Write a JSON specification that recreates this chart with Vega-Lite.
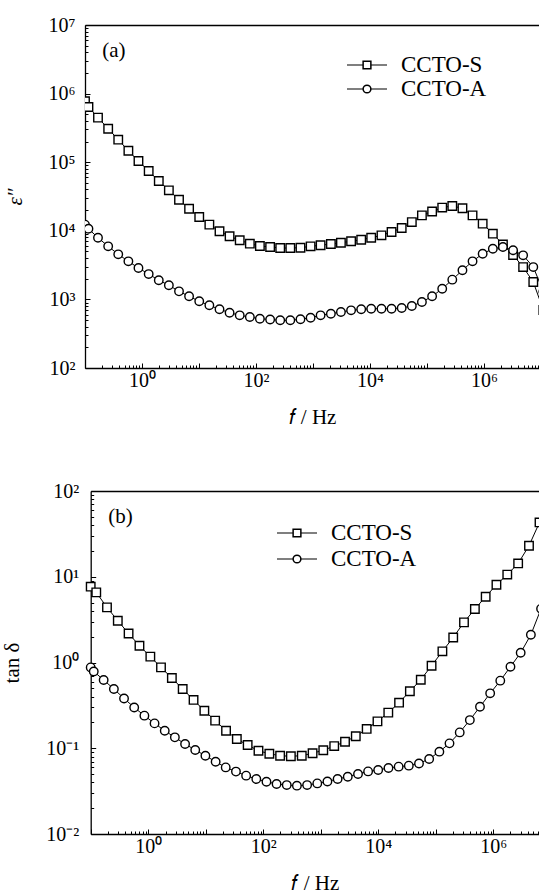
{
  "$schema": "https://vega.github.io/schema/vega-lite/v6.json",
  "padding": {"left": 1, "top": 15, "right": 0, "bottom": 0},
  "spacing": 54,
  "resolve": {"scale": {"shape": "independent", "opacity": "independent"}, "legend": {"shape": "independent", "opacity": "independent"}},
  "config": {
    "view": {"stroke": null},
    "font": "Liberation Serif",
    "axis": {"labelFont": "Liberation Serif", "titleFont": "Liberation Serif", "labelFontSize": 20, "titleFontSize": 21, "labelColor": "black", "titleColor": "black", "titleFontWeight": "normal", "tickColor": "black", "domainColor": "black", "grid": false, "tickWidth": 1, "domainWidth": 1.3, "labelFlush": false, "labelOverlap": false, "labelBound": false}
  },
  "datasets": {
    "a": [
      {"sample":"CCTO-S","f":0.1,"eps":773000},{"sample":"CCTO-S","f":0.115,"eps":638000},{"sample":"CCTO-S","f":0.169,"eps":446000},{"sample":"CCTO-S","f":0.255,"eps":308000},{"sample":"CCTO-S","f":0.383,"eps":213000},{"sample":"CCTO-S","f":0.577,"eps":147000},{"sample":"CCTO-S","f":0.867,"eps":104000},{"sample":"CCTO-S","f":1.31,"eps":74500},{"sample":"CCTO-S","f":1.97,"eps":53200},{"sample":"CCTO-S","f":2.96,"eps":38900},{"sample":"CCTO-S","f":4.46,"eps":28400},{"sample":"CCTO-S","f":6.7,"eps":21000},{"sample":"CCTO-S","f":10.1,"eps":15900},{"sample":"CCTO-S","f":15.2,"eps":12300},{"sample":"CCTO-S","f":22.9,"eps":9840},{"sample":"CCTO-S","f":34.4,"eps":8320},{"sample":"CCTO-S","f":51.8,"eps":7280},{"sample":"CCTO-S","f":78,"eps":6490},{"sample":"CCTO-S","f":117,"eps":6000},{"sample":"CCTO-S","f":177,"eps":5810},{"sample":"CCTO-S","f":266,"eps":5610},{"sample":"CCTO-S","f":400,"eps":5610},{"sample":"CCTO-S","f":603,"eps":5670},{"sample":"CCTO-S","f":908,"eps":5940},{"sample":"CCTO-S","f":1360,"eps":6150},{"sample":"CCTO-S","f":2060,"eps":6420},{"sample":"CCTO-S","f":3090,"eps":6710},{"sample":"CCTO-S","f":4660,"eps":7030},{"sample":"CCTO-S","f":7010,"eps":7420},{"sample":"CCTO-S","f":10500,"eps":7930},{"sample":"CCTO-S","f":15900,"eps":8590},{"sample":"CCTO-S","f":23900,"eps":9610},{"sample":"CCTO-S","f":36000,"eps":11000},{"sample":"CCTO-S","f":54200,"eps":13400},{"sample":"CCTO-S","f":81500,"eps":16800},{"sample":"CCTO-S","f":123000,"eps":19100},{"sample":"CCTO-S","f":185000,"eps":21800},{"sample":"CCTO-S","f":278000,"eps":23000},{"sample":"CCTO-S","f":419000,"eps":21300},{"sample":"CCTO-S","f":630000,"eps":16800},{"sample":"CCTO-S","f":948000,"eps":12700},{"sample":"CCTO-S","f":1430000,"eps":9080},{"sample":"CCTO-S","f":2150000,"eps":6310},{"sample":"CCTO-S","f":3240000,"eps":4440},{"sample":"CCTO-S","f":4860000,"eps":2960},{"sample":"CCTO-S","f":7330000,"eps":1790},{"sample":"CCTO-S","f":11000000,"eps":700},
      {"sample":"CCTO-A","f":0.1,"eps":12300},{"sample":"CCTO-A","f":0.115,"eps":10700},{"sample":"CCTO-A","f":0.169,"eps":7930},{"sample":"CCTO-A","f":0.255,"eps":5940},{"sample":"CCTO-A","f":0.383,"eps":4540},{"sample":"CCTO-A","f":0.577,"eps":3590},{"sample":"CCTO-A","f":0.867,"eps":2870},{"sample":"CCTO-A","f":1.31,"eps":2340},{"sample":"CCTO-A","f":1.97,"eps":1900},{"sample":"CCTO-A","f":2.96,"eps":1610},{"sample":"CCTO-A","f":4.46,"eps":1310},{"sample":"CCTO-A","f":6.7,"eps":1110},{"sample":"CCTO-A","f":10.1,"eps":938},{"sample":"CCTO-A","f":15.2,"eps":820},{"sample":"CCTO-A","f":22.9,"eps":717},{"sample":"CCTO-A","f":34.4,"eps":640},{"sample":"CCTO-A","f":51.8,"eps":586},{"sample":"CCTO-A","f":78,"eps":554},{"sample":"CCTO-A","f":117,"eps":523},{"sample":"CCTO-A","f":177,"eps":509},{"sample":"CCTO-A","f":266,"eps":496},{"sample":"CCTO-A","f":400,"eps":496},{"sample":"CCTO-A","f":603,"eps":513},{"sample":"CCTO-A","f":908,"eps":541},{"sample":"CCTO-A","f":1360,"eps":586},{"sample":"CCTO-A","f":2060,"eps":619},{"sample":"CCTO-A","f":3090,"eps":655},{"sample":"CCTO-A","f":4660,"eps":693},{"sample":"CCTO-A","f":7010,"eps":717},{"sample":"CCTO-A","f":10500,"eps":732},{"sample":"CCTO-A","f":15900,"eps":732},{"sample":"CCTO-A","f":23900,"eps":732},{"sample":"CCTO-A","f":36000,"eps":750},{"sample":"CCTO-A","f":54200,"eps":801},{"sample":"CCTO-A","f":81500,"eps":916},{"sample":"CCTO-A","f":123000,"eps":1110},{"sample":"CCTO-A","f":185000,"eps":1430},{"sample":"CCTO-A","f":278000,"eps":1940},{"sample":"CCTO-A","f":419000,"eps":2660},{"sample":"CCTO-A","f":630000,"eps":3590},{"sample":"CCTO-A","f":948000,"eps":4630},{"sample":"CCTO-A","f":1430000,"eps":5480},{"sample":"CCTO-A","f":2150000,"eps":5810},{"sample":"CCTO-A","f":3240000,"eps":5200},{"sample":"CCTO-A","f":4860000,"eps":4390},{"sample":"CCTO-A","f":7330000,"eps":2960},{"sample":"CCTO-A","f":11000000,"eps":1300}
    ],
    "b": [
      {"sample":"CCTO-S","f":0.1,"tan":7.66},{"sample":"CCTO-S","f":0.125,"tan":6.57},{"sample":"CCTO-S","f":0.192,"tan":4.39},{"sample":"CCTO-S","f":0.296,"tan":3.07},{"sample":"CCTO-S","f":0.456,"tan":2.18},{"sample":"CCTO-S","f":0.705,"tan":1.57},{"sample":"CCTO-S","f":1.09,"tan":1.17},{"sample":"CCTO-S","f":1.67,"tan":0.877},{"sample":"CCTO-S","f":2.58,"tan":0.659},{"sample":"CCTO-S","f":3.98,"tan":0.491},{"sample":"CCTO-S","f":6.15,"tan":0.366},{"sample":"CCTO-S","f":9.48,"tan":0.274},{"sample":"CCTO-S","f":14.6,"tan":0.21},{"sample":"CCTO-S","f":22.6,"tan":0.16},{"sample":"CCTO-S","f":34.8,"tan":0.128},{"sample":"CCTO-S","f":53.7,"tan":0.109},{"sample":"CCTO-S","f":82.8,"tan":0.0935},{"sample":"CCTO-S","f":128,"tan":0.0863},{"sample":"CCTO-S","f":197,"tan":0.0818},{"sample":"CCTO-S","f":303,"tan":0.0807},{"sample":"CCTO-S","f":469,"tan":0.0818},{"sample":"CCTO-S","f":723,"tan":0.0875},{"sample":"CCTO-S","f":1110,"tan":0.0948},{"sample":"CCTO-S","f":1720,"tan":0.106},{"sample":"CCTO-S","f":2650,"tan":0.119},{"sample":"CCTO-S","f":4080,"tan":0.138},{"sample":"CCTO-S","f":6310,"tan":0.168},{"sample":"CCTO-S","f":9720,"tan":0.206},{"sample":"CCTO-S","f":15000,"tan":0.26},{"sample":"CCTO-S","f":23100,"tan":0.34},{"sample":"CCTO-S","f":35600,"tan":0.462},{"sample":"CCTO-S","f":55100,"tan":0.63},{"sample":"CCTO-S","f":84900,"tan":0.918},{"sample":"CCTO-S","f":131000,"tan":1.35},{"sample":"CCTO-S","f":202000,"tan":1.96},{"sample":"CCTO-S","f":311000,"tan":2.94},{"sample":"CCTO-S","f":481000,"tan":4.21},{"sample":"CCTO-S","f":741000,"tan":5.85},{"sample":"CCTO-S","f":1140000,"tan":8.07},{"sample":"CCTO-S","f":1760000,"tan":10.6},{"sample":"CCTO-S","f":2720000,"tan":14.3},{"sample":"CCTO-S","f":4200000,"tan":23},{"sample":"CCTO-S","f":6400000,"tan":43},
      {"sample":"CCTO-A","f":0.1,"tan":0.877},{"sample":"CCTO-A","f":0.113,"tan":0.787},{"sample":"CCTO-A","f":0.168,"tan":0.625},{"sample":"CCTO-A","f":0.253,"tan":0.491},{"sample":"CCTO-A","f":0.38,"tan":0.381},{"sample":"CCTO-A","f":0.571,"tan":0.299},{"sample":"CCTO-A","f":0.859,"tan":0.24},{"sample":"CCTO-A","f":1.29,"tan":0.195},{"sample":"CCTO-A","f":1.94,"tan":0.16},{"sample":"CCTO-A","f":2.91,"tan":0.134},{"sample":"CCTO-A","f":4.38,"tan":0.112},{"sample":"CCTO-A","f":6.58,"tan":0.0955},{"sample":"CCTO-A","f":9.89,"tan":0.0818},{"sample":"CCTO-A","f":14.9,"tan":0.0697},{"sample":"CCTO-A","f":22.3,"tan":0.0598},{"sample":"CCTO-A","f":33.6,"tan":0.0534},{"sample":"CCTO-A","f":50.5,"tan":0.0479},{"sample":"CCTO-A","f":75.9,"tan":0.0438},{"sample":"CCTO-A","f":114,"tan":0.0407},{"sample":"CCTO-A","f":171,"tan":0.0383},{"sample":"CCTO-A","f":257,"tan":0.0372},{"sample":"CCTO-A","f":386,"tan":0.0366},{"sample":"CCTO-A","f":581,"tan":0.0372},{"sample":"CCTO-A","f":873,"tan":0.0389},{"sample":"CCTO-A","f":1310,"tan":0.041},{"sample":"CCTO-A","f":1970,"tan":0.0438},{"sample":"CCTO-A","f":2960,"tan":0.0466},{"sample":"CCTO-A","f":4460,"tan":0.0501},{"sample":"CCTO-A","f":6680,"tan":0.0537},{"sample":"CCTO-A","f":10000,"tan":0.0557},{"sample":"CCTO-A","f":15100,"tan":0.0589},{"sample":"CCTO-A","f":22700,"tan":0.061},{"sample":"CCTO-A","f":34100,"tan":0.0627},{"sample":"CCTO-A","f":51300,"tan":0.0665},{"sample":"CCTO-A","f":77100,"tan":0.075},{"sample":"CCTO-A","f":116000,"tan":0.0912},{"sample":"CCTO-A","f":174000,"tan":0.114},{"sample":"CCTO-A","f":262000,"tan":0.153},{"sample":"CCTO-A","f":393000,"tan":0.213},{"sample":"CCTO-A","f":590000,"tan":0.305},{"sample":"CCTO-A","f":887000,"tan":0.437},{"sample":"CCTO-A","f":1330000,"tan":0.614},{"sample":"CCTO-A","f":2000000,"tan":0.893},{"sample":"CCTO-A","f":3010000,"tan":1.3},{"sample":"CCTO-A","f":4530000,"tan":2.11},{"sample":"CCTO-A","f":6810000,"tan":4.24}
    ]
  },
  "vconcat": [
    {
      "width": 454,
      "height": 343,
      "data": {"name": "a"},
      "resolve": {"axis": {"x": "independent", "y": "independent"}},
      "layer": [
        {
          "mark": {"type": "line", "color": "black", "strokeWidth": 1, "clip": true},
          "encoding": {
            "x": {"field": "f", "type": "quantitative", "scale": {"type": "log", "domain": [0.1, 9230000], "nice": false},
              "axis": {"orient": "bottom", "values": [0.1, 1, 10, 100, 1000, 10000, 100000, 1000000], "tickSize": -5, "labelPadding": 7,
                "labelExpr": "datum.value == 1 ? '10⁰' : datum.value == 100 ? '10²' : datum.value == 10000 ? '10⁴' : datum.value == 1000000 ? '10⁶' : ''",
                "title": "𝑓 / Hz", "titlePadding": 16}},
            "y": {"field": "eps", "type": "quantitative", "scale": {"type": "log", "domain": [100, 10000000], "nice": false},
              "axis": {"orient": "left", "values": [100, 1000, 10000, 100000, 1000000, 10000000], "tickSize": -5, "labelPadding": 15,
                "labelExpr": "datum.value == 100 ? '10²' : datum.value == 1000 ? '10³' : datum.value == 10000 ? '10⁴' : datum.value == 100000 ? '10⁵' : datum.value == 1000000 ? '10⁶' : datum.value == 10000000 ? '10⁷' : ''",
                "title": "ε″", "titleFontStyle": "italic", "titlePadding": 23}},
            "opacity": {"field": "sample", "type": "ordinal", "scale": {"range": [1, 1]},
              "legend": {"title": null, "orient": "none", "legendX": 261, "legendY": 28, "direction": "vertical", "padding": 0, "symbolType": "stroke", "symbolSize": 1600, "symbolStrokeWidth": 1.2, "symbolStrokeColor": "black", "symbolDash": [16, 8, 16], "symbolOpacity": 1, "labelExpr": "''", "labelFont": "Liberation Serif", "labelFontSize": 23, "clipHeight": 24, "rowPadding": 0}}
          }
        },
        {
          "mark": {"type": "point", "filled": true, "fill": "white", "stroke": "black", "strokeWidth": 1.4, "size": 72, "opacity": 1, "clip": true},
          "encoding": {
            "x": {"field": "f", "type": "quantitative",
              "axis": {"orient": "bottom", "values": [0.2,0.3,0.4,0.5,0.6,0.7,0.8,0.9,2,3,4,5,6,7,8,9,20,30,40,50,60,70,80,90,200,300,400,500,600,700,800,900,2000,3000,4000,5000,6000,7000,8000,9000,20000,30000,40000,50000,60000,70000,80000,90000,200000,300000,400000,500000,600000,700000,800000,900000,2000000,3000000,4000000,5000000,6000000,7000000,8000000,9000000], "tickSize": -3, "labels": false, "domain": false, "title": null}},
            "y": {"field": "eps", "type": "quantitative",
              "axis": {"orient": "left", "values": [200,300,400,500,600,700,800,900,2000,3000,4000,5000,6000,7000,8000,9000,20000,30000,40000,50000,60000,70000,80000,90000,200000,300000,400000,500000,600000,700000,800000,900000,2000000,3000000,4000000,5000000,6000000,7000000,8000000,9000000], "tickSize": -3, "labels": false, "domain": false, "title": null}},
            "shape": {"field": "sample", "type": "nominal", "scale": {"domain": ["CCTO-S", "CCTO-A"], "range": ["square", "circle"]},
              "legend": {"title": null, "orient": "none", "legendX": 270.5, "legendY": 28.5, "direction": "vertical", "padding": 0, "symbolSize": 60, "labelOffset": 22.5, "labelFont": "Liberation Serif", "labelFontSize": 23, "labelColor": "black", "rowPadding": 0,
                "encode": {"symbols": {"fill": {"value": "white"}, "stroke": {"value": "black"}, "strokeWidth": {"value": 1.2}, "size": {"value": 60}, "opacity": {"value": 1}}}}}
          }
        },
        {
          "data": {"values": [{"label": "(a)"}]},
          "mark": {"type": "text", "font": "Liberation Serif", "fontSize": 21, "color": "black", "align": "center", "baseline": "middle"},
          "encoding": {
            "x": {"datum": 0.32, "type": "quantitative", "axis": {"orient": "top", "ticks": false, "labels": false, "domain": true, "title": null}},
            "y": {"datum": 4180000, "type": "quantitative", "axis": null},
            "text": {"field": "label"}
          }
        }
      ]
    },
    {
      "width": 454,
      "height": 343,
      "data": {"name": "b"},
      "resolve": {"axis": {"x": "independent", "y": "independent"}},
      "layer": [
        {
          "mark": {"type": "line", "color": "black", "strokeWidth": 1, "clip": true},
          "encoding": {
            "x": {"field": "f", "type": "quantitative", "scale": {"type": "log", "domain": [0.1, 6270000], "range": [5.7, 454], "nice": false},
              "axis": {"orient": "bottom", "values": [0.1, 1, 10, 100, 1000, 10000, 100000, 1000000], "tickSize": -5, "labelPadding": 7,
                "labelExpr": "datum.value == 1 ? '10⁰' : datum.value == 100 ? '10²' : datum.value == 10000 ? '10⁴' : datum.value == 1000000 ? '10⁶' : ''",
                "title": "𝑓 / Hz", "titlePadding": 16}},
            "y": {"field": "tan", "type": "quantitative", "scale": {"type": "log", "domain": [0.01, 100], "nice": false},
              "axis": {"orient": "left", "offset": -5.7, "values": [0.01, 0.1, 1, 10, 100], "tickSize": -5, "labelPadding": 17,
                "labelExpr": "datum.value == 0.01 ? '10⁻²' : datum.value == 0.1 ? '10⁻¹' : datum.value == 1 ? '10⁰' : datum.value == 10 ? '10¹' : datum.value == 100 ? '10²' : ''",
                "title": "tan δ", "titlePadding": 23}},
            "opacity": {"field": "sample", "type": "ordinal", "scale": {"range": [1, 1]},
              "legend": {"title": null, "orient": "none", "legendX": 191, "legendY": 30, "direction": "vertical", "padding": 0, "symbolType": "stroke", "symbolSize": 1600, "symbolStrokeWidth": 1.2, "symbolStrokeColor": "black", "symbolDash": [16, 8, 16], "symbolOpacity": 1, "labelExpr": "''", "labelFont": "Liberation Serif", "labelFontSize": 23, "clipHeight": 24, "rowPadding": 2}}
          }
        },
        {
          "mark": {"type": "point", "filled": true, "fill": "white", "stroke": "black", "strokeWidth": 1.4, "size": 72, "opacity": 1, "clip": true},
          "encoding": {
            "x": {"field": "f", "type": "quantitative",
              "axis": {"orient": "bottom", "values": [0.2,0.3,0.4,0.5,0.6,0.7,0.8,0.9,2,3,4,5,6,7,8,9,20,30,40,50,60,70,80,90,200,300,400,500,600,700,800,900,2000,3000,4000,5000,6000,7000,8000,9000,20000,30000,40000,50000,60000,70000,80000,90000,200000,300000,400000,500000,600000,700000,800000,900000,2000000,3000000,4000000,5000000,6000000], "tickSize": -3, "labels": false, "domain": false, "title": null}},
            "y": {"field": "tan", "type": "quantitative",
              "axis": {"orient": "left", "offset": -5.7, "values": [0.02,0.03,0.04,0.05,0.06,0.07,0.08,0.09,0.2,0.3,0.4,0.5,0.6,0.7,0.8,0.9,2,3,4,5,6,7,8,9,20,30,40,50,60,70,80,90], "tickSize": -3, "labels": false, "domain": false, "title": null}},
            "shape": {"field": "sample", "type": "nominal", "scale": {"domain": ["CCTO-S", "CCTO-A"], "range": ["square", "circle"]},
              "legend": {"title": null, "orient": "none", "legendX": 200.5, "legendY": 30.5, "direction": "vertical", "padding": 0, "symbolSize": 60, "labelOffset": 22.5, "labelFont": "Liberation Serif", "labelFontSize": 23, "labelColor": "black", "rowPadding": 2,
                "encode": {"symbols": {"fill": {"value": "white"}, "stroke": {"value": "black"}, "strokeWidth": {"value": 1.2}, "size": {"value": 60}, "opacity": {"value": 1}}}}}
          }
        },
        {
          "data": {"values": [{"label": "(b)"}]},
          "mark": {"type": "text", "font": "Liberation Serif", "fontSize": 21, "color": "black", "align": "center", "baseline": "middle"},
          "encoding": {
            "x": {"datum": 0.33, "type": "quantitative", "axis": {"orient": "top", "ticks": false, "labels": false, "domain": true, "title": null}},
            "y": {"datum": 50, "type": "quantitative", "axis": null},
            "text": {"field": "label"}
          }
        }
      ]
    }
  ]
}
